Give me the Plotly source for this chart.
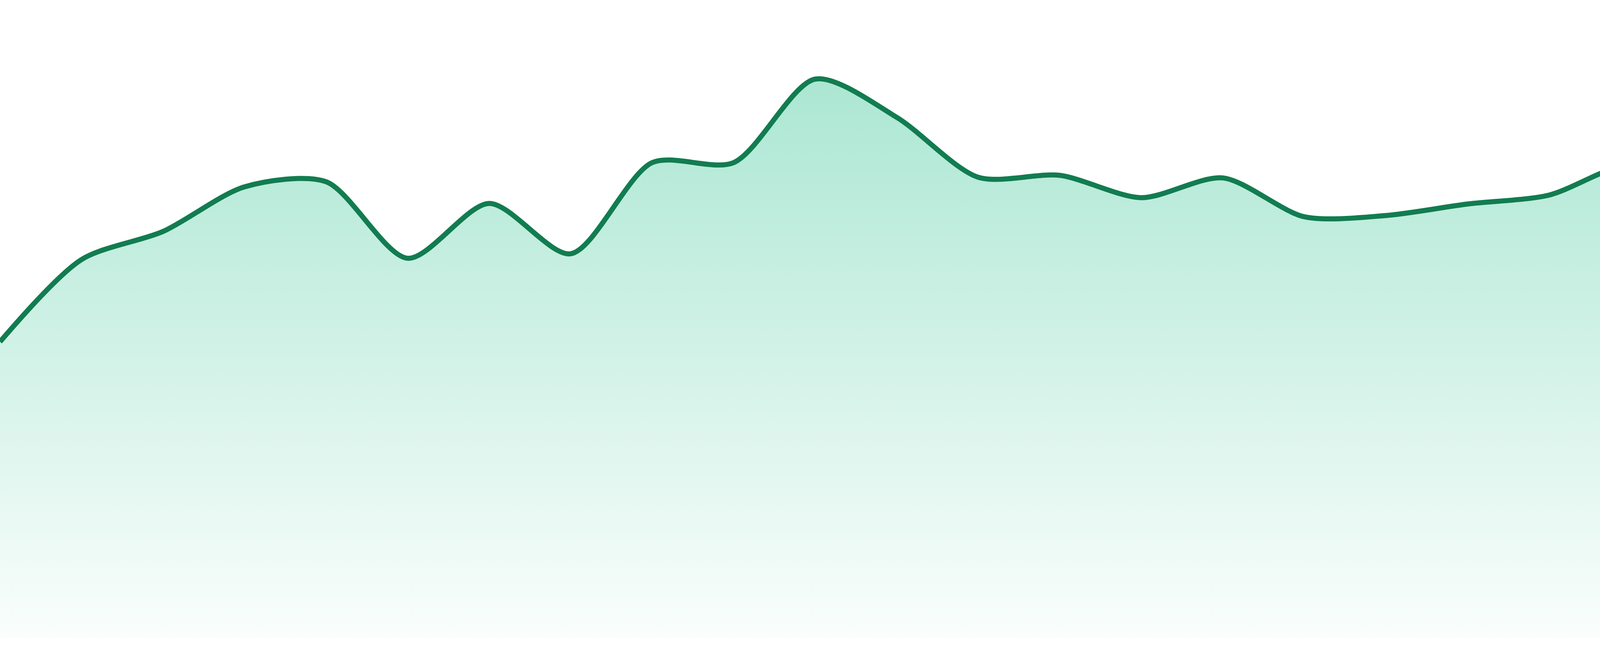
import plotly.graph_objects as go

# categories (24 evenly spaced periods)
periods = list(range(24))
# series values (percent of plot height)
values = [46.4, 59.3, 63.7, 70.7, 71.5, 59.5, 68.1, 60.2, 74.5, 74.5, 87.6, 81.6,
          72.2, 72.5, 69.0, 72.1, 66.0, 66.2, 68.0, 69.4, 74.2, 70.7, 73.5, 67.5]

LINE = "#127c51"

fig = go.Figure()
fig.add_trace(go.Scatter(
    x=periods, y=values, mode="lines",
    line=dict(color=LINE, width=13, shape="spline", smoothing=0.8),
    fill="tozeroy",
    fillgradient=dict(type="vertical", start=0, stop=max(values),
                      colorscale=[[0, "rgba(16,185,129,0.02)"], [1, "rgba(16,185,129,0.35)"]]),
    hoverinfo="skip", showlegend=False,
))
fig.update_layout(
    width=4800, height=1680,
    margin=dict(l=0, r=0, t=0, b=47),
    paper_bgcolor="white", plot_bgcolor="white",
    xaxis=dict(range=[0, 23], visible=False, showgrid=False, zeroline=False),
    yaxis=dict(range=[0, 100], visible=False, showgrid=False, zeroline=False),
)
fig.write_html(
    "out.html",
    config={"displayModeBar": False},
    post_script="document.body.style.margin='0';document.body.style.overflow='hidden';",
)
